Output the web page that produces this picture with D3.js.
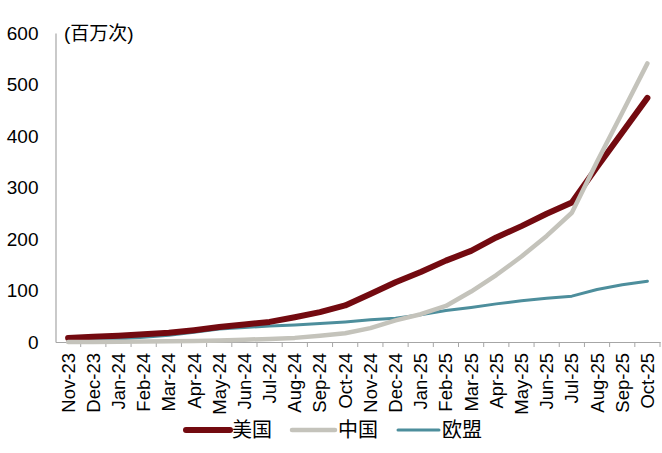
<!DOCTYPE html>
<html>
<head>
<meta charset="utf-8">
<script src="https://cdn.jsdelivr.net/npm/d3@7"></script>
<style>
html,body{margin:0;padding:0;background:#fff;}
svg{display:block;font-family:"Liberation Sans",Arial,"Noto Sans CJK SC",sans-serif;}
</style>
</head>
<body>
<svg id="chart" width="662" height="453"></svg>
<script>
const categories = ["Nov-23","Dec-23","Jan-24","Feb-24","Mar-24","Apr-24","May-24","Jun-24","Jul-24","Aug-24","Sep-24","Oct-24","Nov-24","Dec-24","Jan-25","Feb-25","Mar-25","Apr-25","May-25","Jun-25","Jul-25","Aug-25","Sep-25","Oct-25"];
const usValues = [8,10,12,15,18,23,29,34,39,48,58,71,93,116,136,158,177,203,225,249,271,340,407,474];
const chinaValues = [0,0,0.5,1,1.5,2,3,4.5,6,8,12,17,27,42,54,70,98,130,166,206,251,350,445,541];
const euValues = [2,4,6,9,13,19,25,28,31,33,36,39,43,46,53,61,67,74,80,85,89,102,111,118];
const yTicks = [0,100,200,300,400,500,600];
const seriesNames = ["美国","中国","欧盟"];
const unitLabel = "(百万次)";

const svg = d3.select("#chart");
const mLeft = 55.5, mRight = 660, mTop = 33, mBottom = 342;

const x = d3.scaleBand().domain(categories).range([mLeft, mRight]).padding(0);
const y = d3.scaleLinear().domain([0, 600]).range([mBottom, mTop]);

// y axis
const yAxis = d3.axisLeft(y).tickValues(yTicks).tickSize(0).tickPadding(17);
const gy = svg.append("g").attr("transform", `translate(${mLeft},0)`).call(yAxis);
gy.select(".domain").attr("stroke", "#a6a6a6").attr("stroke-width", 1.2);
gy.selectAll("text").attr("font-size", 19).attr("fill", "#000")
  .attr("font-family", "'Liberation Sans', Arial, sans-serif");

// x axis
const xAxis = d3.axisBottom(x).tickSize(0).tickFormat(d => d);
const gx = svg.append("g").attr("transform", `translate(0,${mBottom})`).call(xAxis);
gx.select(".domain").attr("stroke", "#a6a6a6").attr("stroke-width", 1.2);
gx.selectAll(".tick text")
  .attr("font-size", 18.5).attr("fill", "#000")
  .attr("font-family", "'Liberation Sans', Arial, sans-serif")
  .attr("text-anchor", "end")
  .attr("transform", "rotate(-90)")
  .attr("x", -11).attr("y", 0).attr("dy", "0.35em");
// boundary tick marks
gx.selectAll(".bnd").data(categories).enter().append("line")
  .attr("class", "bnd")
  .attr("x1", d => x(d) + x.bandwidth())
  .attr("x2", d => x(d) + x.bandwidth())
  .attr("y1", 0).attr("y2", 5)
  .attr("stroke", "#a6a6a6").attr("stroke-width", 1);

// unit label
svg.append("text").attr("x", 64).attr("y", 40).attr("font-size", 19).attr("fill", "#000")
  .text(unitLabel);

const cx = d => x(d) + x.bandwidth() / 2;
const series = [
  {name: seriesNames[0], values: usValues, color: "#730a10", width: 6},
  {name: seriesNames[1], values: chinaValues, color: "#c4c3bb", width: 4.5},
  {name: seriesNames[2], values: euValues, color: "#4d8e9c", width: 3}
];
const line = d3.line().x((d, i) => cx(categories[i])).y(d => y(d));

const drawOrder = [2, 0, 1];
drawOrder.forEach(k => {
  const s = series[k];
  svg.append("path").datum(s.values).attr("d", line)
    .attr("fill", "none").attr("stroke", s.color).attr("stroke-width", s.width)
    .attr("stroke-linejoin", "round").attr("stroke-linecap", "round");
});

// legend
const legendPos = [
  {x1: 186, x2: 230, tx: 232},
  {x1: 292, x2: 335, tx: 338},
  {x1: 398, x2: 439, tx: 442}
];
series.forEach((s, i) => {
  const p = legendPos[i];
  svg.append("line").attr("x1", p.x1).attr("x2", p.x2).attr("y1", 430).attr("y2", 430)
    .attr("stroke", s.color).attr("stroke-width", s.width).attr("stroke-linecap", "round");
  svg.append("text").attr("x", p.tx).attr("y", 437).attr("font-size", 20).attr("fill", "#000")
    .text(s.name);
});
</script>
</body>
</html>
